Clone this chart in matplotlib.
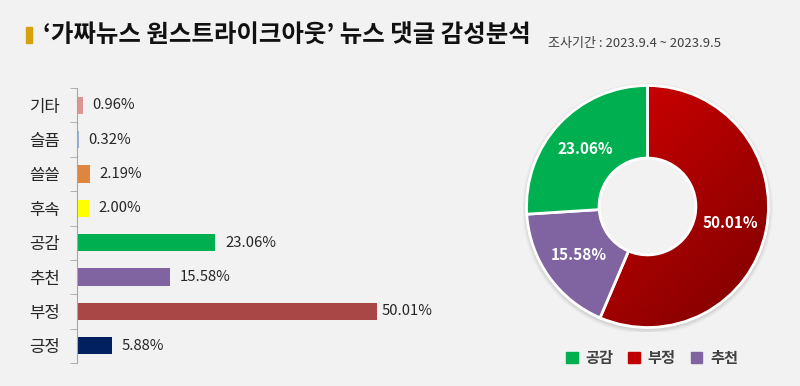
import numpy as np
import matplotlib.pyplot as plt
from matplotlib.patches import Patch, Rectangle, Circle
from matplotlib.colors import LinearSegmentedColormap

plt.rcParams['font.family'] = ['Noto Sans CJK KR', 'DejaVu Sans']

# data
categories = ['기타', '슬픔', '쓸쓸', '후속', '공감', '추천', '부정', '긍정']
values = [0.96, 0.32, 2.19, 2.00, 23.06, 15.58, 50.01, 5.88]
bar_colors = ['#d99694', '#95b3d7', '#e0853e', '#ffff00', '#00b050', '#8064a2', '#a94646', '#002060']

donut_labels = ['부정', '추천', '공감']
donut_values = [50.01, 15.58, 23.06]
donut_colors = ['#c00000', '#8064a2', '#00b050']

bg = '#f2f2f2'
fig = plt.figure(figsize=(8, 3.86), dpi=100, facecolor=bg)

# title
fig.patches.append(Rectangle((26 / 800, 1 - 43 / 386), 6 / 800, 16 / 386,
                             transform=fig.transFigure, color='#d6a10a'))
fig.text(43 / 800, 1 - 35 / 386, '‘가짜뉴스 원스트라이크아웃’ 뉴스 댓글 감성분석',
         fontsize=17.6, weight='bold', va='center', color='#111111')
fig.text(548 / 800, 1 - 43 / 386, '조사기간 : 2023.9.4 ~ 2023.9.5',
         fontsize=9.4, color='#404040', va='center')

# bar chart
ax = fig.add_axes([77 / 800, 0.0596, 393 / 800, 0.7124])
ax.set_facecolor('none')
ax.barh(categories, values, color=bar_colors, height=0.5)
ax.invert_yaxis()
ax.set_xlim(0, 393 / 6)
ax.set_ylim(7.5, -0.5)
for i, v in enumerate(values):
    off = 3.5 if v == max(values) else 7
    ax.annotate(f'{v:.2f}%', xy=(v, i), xytext=(off, 0), textcoords='offset points',
                va='center', ha='left', fontsize=10.7, color='#262626')
for s in ['top', 'right', 'bottom']:
    ax.spines[s].set_visible(False)
ax.spines['left'].set_color('#a6a6a6')
ax.set_xticks([])
ax.set_yticks(np.arange(-0.5, 8, 1), minor=True)
ax.tick_params(axis='y', which='major', length=0, pad=12, labelsize=12, labelcolor='#262626')
ax.tick_params(axis='y', which='minor', length=5, color='#a6a6a6')

# donut
ax2 = fig.add_axes([522.5 / 800, 1 - 331.5 / 386, 250 / 800, 250 / 386])
ax2.set_facecolor('none')
for k, a in enumerate([0.05, 0.04, 0.03]):
    ax2.add_patch(Circle((0, -0.015), 1.0 + 0.012 * (k + 1), color='black', alpha=a, lw=0, zorder=0))
ax2.add_patch(Circle((0, 0), 0.41, color=bg, lw=0, zorder=0.2))
wedges, _ = ax2.pie(donut_values, colors=donut_colors, startangle=90, counterclock=False,
                    radius=1, wedgeprops=dict(width=0.6, edgecolor='white', linewidth=2))

# gradient fill for the red wedge
red_cmap = LinearSegmentedColormap.from_list('reds', ['#cc0000', '#850000'])
xx, yy = np.meshgrid(np.linspace(-1, 1, 200), np.linspace(1, -1, 200))
grad = (xx - yy + 2) / 4
img = ax2.imshow(grad, extent=[-1, 1, -1, 1], cmap=red_cmap, vmin=0.2, vmax=0.9, zorder=0.5)
img.set_clip_path(wedges[0])
wedges[0].set_facecolor('none')

for w, v in zip(wedges, donut_values):
    t = np.deg2rad((w.theta1 + w.theta2) / 2)
    ax2.text(0.7 * np.cos(t), 0.7 * np.sin(t), f'{v:.2f}%', color='white',
             fontsize=11, weight='bold', ha='center', va='center')
lim = 125 / 121
ax2.set_xlim(-lim, lim)
ax2.set_ylim(-lim, lim)
ax2.set_aspect('equal')
ax2.axis('off')

handles = [Patch(color='#00b050', label='공감'), Patch(color='#c00000', label='부정'),
           Patch(color='#8064a2', label='추천')]
leg = fig.legend(handles=handles, ncol=3, loc='center', bbox_to_anchor=(652 / 800, 1 - 358 / 386),
                 frameon=False, handlelength=0.75, handleheight=0.75, handletextpad=0.5,
                 columnspacing=1.0, prop=dict(weight='bold', size=11))
for t in leg.get_texts():
    t.set_color('#404040')

fig.savefig('out.png', dpi=100, facecolor=bg)
